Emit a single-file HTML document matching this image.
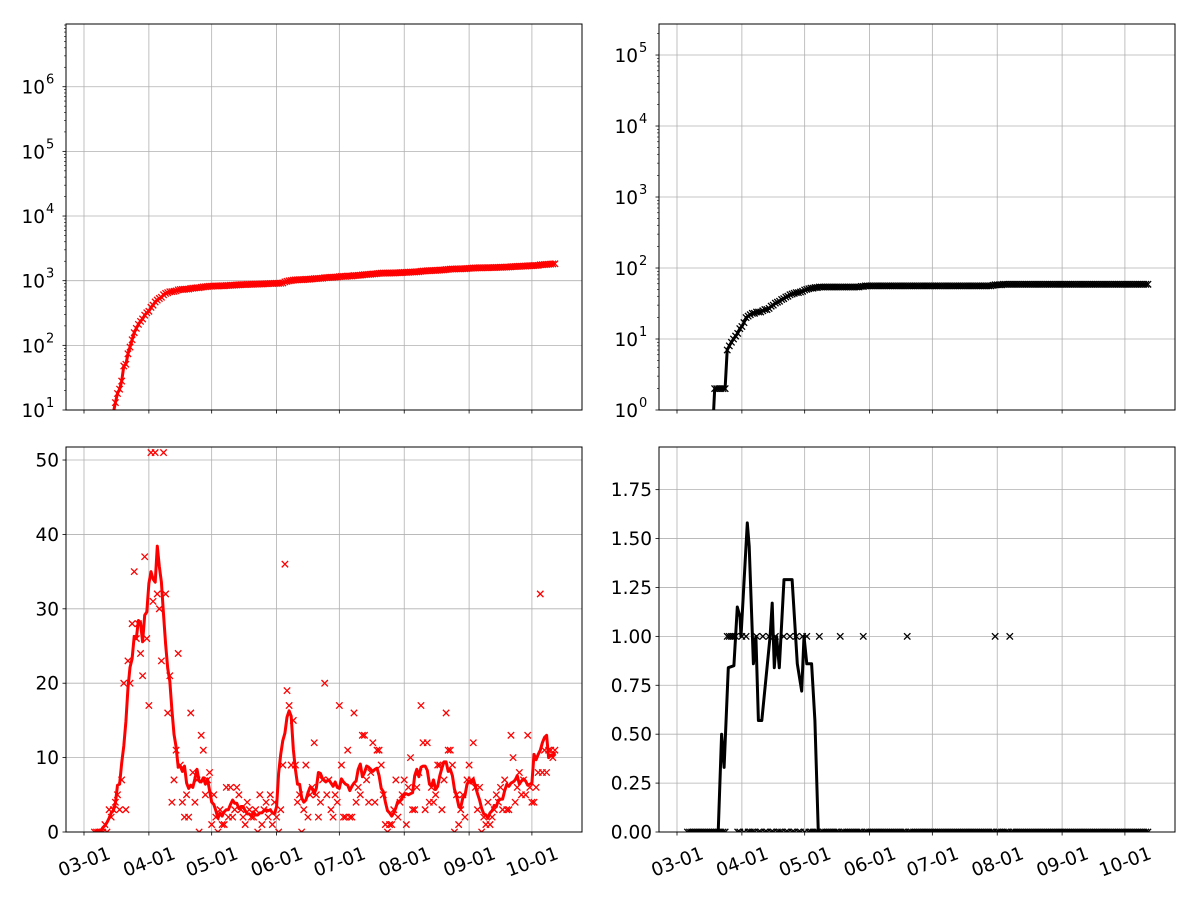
<!DOCTYPE html>
<html><head><meta charset="utf-8"><style>
html,body{margin:0;padding:0;background:#fff}
svg{display:block;font-family:"DejaVu Sans","Liberation Sans",sans-serif}
</style></head><body>
<svg id="fig" width="1200" height="900" viewBox="0 0 1200 900" xmlns="http://www.w3.org/2000/svg"></svg>
<script>
// ---- data ----
const startDay = 5; // day index from 03-01 of first daily value
const casesDaily = [
0,0,0,0,0,1,0,3,2,3,
4,5,3,7,20,3,23,20,28,35,
26,28,24,21,37,26,17,51,31,51,
32,30,23,51,32,16,21,4,7,11,
24,9,4,2,5,2,16,8,4,7,
0,13,11,5,7,8,1,5,2,0,
3,1,1,6,2,6,2,3,6,5,
3,2,1,4,3,2,2,3,0,5,
1,3,4,2,5,1,4,2,0,3,
9,36,19,17,9,15,9,4,5,0,
3,9,2,5,6,12,5,2,4,7,
20,5,7,3,2,5,
4,17,9,2,2,11,2,2,16,4,
6,5,13,13,7,4,8,12,4,11,
11,9,5,1,0,1,1,3,7,2,
4,5,7,1,6,10,3,3,6,8,
17,12,3,12,4,6,4,5,9,9,
3,7,16,11,11,9,0,5,1,3,
5,2,7,9,7,12,6,3,6,0,
2,1,4,1,2,3,5,4,6,3,
7,3,3,13,10,4,6,8,
5,7,5,13,6,4,
4,6,8,32,8,11,8,11,11,10,11
];
const deathDays = [24,25,26,27,28,31,33,38,41,44,47,51,54,57,60,62,68,78,89,110,152,159];
const deathCumDays = [17.7,18,23,24,27,29,31.5,33,36,40,44,48,51,55,59,62,66,69,87,90,150,152,159,225];
const deathCumVals = [1,2,2,7,10,12,16,20,23,24,27,33,37,43,46,50,53,54,54,56,56,58,59,59];
const deathSmDays = [5,19.7,21.3,22.5,24.5,27.2,28.8,30.1,30.6,33.6,34.5,36.5,37.7,38.9,40.5,44.5,45.5,46.5,47.6,48.9,51.1,55,57.5,59.6,60.7,62,64.3,65.9,67.5,225];
const deathSmVals = [0,0,0.5,0.33,0.84,0.85,1.15,1.1,1.0,1.58,1.46,0.86,1.0,0.57,0.57,1.0,1.17,0.84,1.0,0.84,1.29,1.29,0.86,0.72,1.0,0.86,0.86,0.57,0,0];
const xTickLabels = ["03-01","04-01","05-01","06-01","07-01","08-01","09-01","10-01"];
const xTickDays = [0,31,61,92,122,153,184,214];

const NS="http://www.w3.org/2000/svg";
const fig=document.getElementById('fig');
function mk(tag,attrs,parent){const e=document.createElementNS(NS,tag);for(const k in attrs)e.setAttribute(k,attrs[k]);(parent||fig).appendChild(e);return e;}

const panels=[
 {name:'cumulative-cases',x0:66,x1:582,y0:24,y1:410,log:true,lo:1,hi:6.97,color:'red',xoff:84},
 {name:'cumulative-deaths',x0:659,x1:1175,y0:24,y1:410,log:true,lo:0,hi:5.437,color:'black',xoff:677},
 {name:'daily-cases',x0:66,x1:582,y0:447,y1:832,log:false,lo:0,hi:51.75,ticks:[0,10,20,30,40,50],fmt:v=>String(v),color:'red',xoff:84},
 {name:'daily-deaths',x0:659,x1:1175,y0:447,y1:832,log:false,lo:0,hi:1.968,ticks:[0,0.25,0.5,0.75,1,1.25,1.5,1.75],fmt:v=>v.toFixed(2),color:'black',xoff:677}
];
const pxPerDay=2.093;
panels.forEach(p=>{
 p.sx=d=>p.xoff+pxPerDay*d;
 p.sy=v=>{const t=p.log?Math.log10(Math.max(v,1e-9)):v;return p.y1-(t-p.lo)/(p.hi-p.lo)*(p.y1-p.y0);};
});

function drawAxes(p,idx){
 const g=mk('g',{});
 
 
 xTickDays.forEach(d=>{const x=p.sx(d);mk('line',{x1:x,x2:x,y1:p.y0,y2:p.y1,stroke:'#b0b0b0','stroke-width':0.8},g);});
 if(p.log){
  for(let k=Math.ceil(p.lo);k<=Math.floor(p.hi);k++){const y=p.sy(Math.pow(10,k));
   mk('line',{x1:p.x0,x2:p.x1,y1:y,y2:y,stroke:'#b0b0b0','stroke-width':0.8},g);
   mk('line',{x1:p.x0-3.5,x2:p.x0,y1:y,y2:y,stroke:'#000','stroke-width':0.8},g);
   const t=mk('text',{x:p.x0-21,y:y+7,'font-size':18.5,'text-anchor':'end',fill:'#000'},g);t.textContent='10';
   
   const s=mk('text',{x:p.x0-20,y:y-3,'font-size':13,'text-anchor':'start',fill:'#000'},g);s.textContent=String(k);
  }
  for(let k=Math.floor(p.lo);k<=Math.ceil(p.hi);k++)for(let m=2;m<=9;m++){const v=m*Math.pow(10,k);const y=p.sy(v);
   if(y<p.y0||y>p.y1)continue;mk('line',{x1:p.x0-2,x2:p.x0,y1:y,y2:y,stroke:'#000','stroke-width':0.6},g);}
 } else {
  p.ticks.forEach(v=>{const y=p.sy(v);
   mk('line',{x1:p.x0,x2:p.x1,y1:y,y2:y,stroke:'#b0b0b0','stroke-width':0.8},g);
   mk('line',{x1:p.x0-3.5,x2:p.x0,y1:y,y2:y,stroke:'#000','stroke-width':0.8},g);
   const t=mk('text',{x:p.x0-7,y:y+6.5,'font-size':18.5,'text-anchor':'end',fill:'#000'},g);t.textContent=p.fmt(v);
   
  });
 }
 xTickDays.forEach((d,i)=>{const x=p.sx(d);
  mk('line',{x1:x,x2:x,y1:p.y1,y2:p.y1+3.5,stroke:'#000','stroke-width':0.8},g);
  if(!p.log){const t=mk('text',{x:x,y:p.y1+36,'font-size':18.5,'text-anchor':'middle',fill:'#000',transform:`rotate(-20 ${x} ${p.y1+29})`},g);t.textContent=xTickLabels[i];
   }
 });
 const cp=mk('clipPath',{id:'cp'+idx});mk('rect',{x:p.x0,y:p.y0,width:p.x1-p.x0,height:p.y1-p.y0},cp);
}
function drawFrame(p){const r=mk('rect',{x:p.x0,y:p.y0,width:p.x1-p.x0,height:p.y1-p.y0,fill:'none',stroke:'#000','stroke-width':1});
 }
function marker(p,g,x,y){const s=3.2;
 mk('path',{d:`M${x-s},${y-s}L${x+s},${y+s}M${x-s},${y+s}L${x+s},${y-s}`,stroke:p.color,'stroke-width':1.3,fill:'none'},g);}
function line(p,g,pts,w){mk('polyline',{points:pts.map(q=>q[0].toFixed(1)+','+q[1].toFixed(1)).join(' '),fill:'none',stroke:p.color,'stroke-width':w,'stroke-linejoin':'round'},g);}

panels.forEach((p,i)=>drawAxes(p,i));

const days=casesDaily.map((_,i)=>startDay+i);
let acc=0;const casesCum=casesDaily.map(v=>acc+=v);
const casesSmooth=casesDaily.map((_,i)=>{let s=0,n=0;for(let j=i-3;j<=i+3;j++){if(j>=0&&j<casesDaily.length){s+=casesDaily[j];n++;}}return s/n;});
const deathsDaily=days.map(d=>deathDays.includes(d)?1:0);
function interp(xs,ys,x){if(x<=xs[0])return ys[0];for(let i=1;i<xs.length;i++)if(x<=xs[i]){const t=(x-xs[i-1])/(xs[i]-xs[i-1]);return ys[i-1]+t*(ys[i]-ys[i-1]);}return ys[ys.length-1];}

{const p=panels[0];const g=mk('g',{'clip-path':'url(#cp0)'});
 
 line(p,g,days.map((d,i)=>[p.sx(d),p.sy(Math.max(casesCum[i],0.5))]),3);
 days.forEach((d,i)=>{if(casesCum[i]>0)marker(p,g,p.sx(d),p.sy(casesCum[i]));});}
{const p=panels[1];const g=mk('g',{'clip-path':'url(#cp1)'});
 
 const pts=[];for(let d=17;d<=225;d++){const v=Math.round(interp(deathCumDays,deathCumVals,d));pts.push([p.sx(d),p.sy(d<17.7?0.5:Math.max(v,0.5))]);}
 line(p,g,pts,3);
 for(let d=18;d<=225;d++){const v=Math.round(interp(deathCumDays,deathCumVals,d));marker(p,g,p.sx(d),p.sy(v));}}
{const p=panels[2];const g=mk('g',{'clip-path':'url(#cp2)'});
 
 days.forEach((d,i)=>marker(p,g,p.sx(d),p.sy(casesDaily[i])));
 line(p,g,days.map((d,i)=>[p.sx(d),p.sy(casesSmooth[i])]),3);}
{const p=panels[3];const g=mk('g',{'clip-path':'url(#cp3)'});
 
 days.forEach((d,i)=>marker(p,g,p.sx(d),p.sy(deathsDaily[i])));
 line(p,g,deathSmDays.map((d,i)=>[p.sx(d),p.sy(deathSmVals[i])]),3);}

panels.forEach(drawFrame);
</script>
</body></html>
